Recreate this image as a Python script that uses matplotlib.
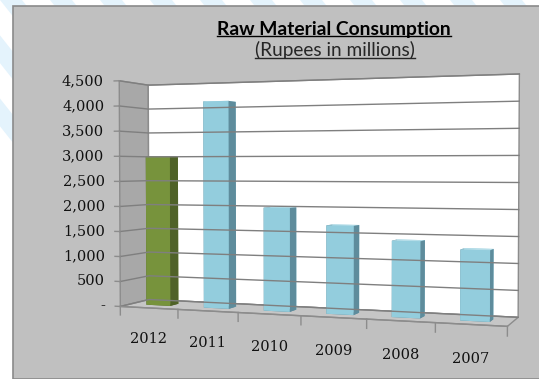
import numpy as np
import matplotlib
matplotlib.use("Agg")
import matplotlib.pyplot as plt
from matplotlib.patches import Rectangle, Polygon
from matplotlib.lines import Line2D
from mpl_toolkits.mplot3d import proj3d
from mpl_toolkits.mplot3d.art3d import Poly3DCollection

# Data
years = ["2012", "2011", "2010", "2009", "2008", "2007"]
consumption = [3000, 4080, 2000, 1680, 1420, 1290]
value_ticks = [0, 500, 1000, 1500, 2000, 2500, 3000, 3500, 4000, 4500]
value_tick_labels = ["-", "500", "1,000", "1,500", "2,000", "2,500",
                     "3,000", "3,500", "4,000", "4,500"]

front_colors = ["#77933C"] + ["#93CDDD"] * 5
side_colors = ["#4F6228"] + ["#5E8C9C"] * 5
top_colors = ["#8FAA55"] + ["#B5DDE8"] * 5

W, H = 539, 379
fig = plt.figure(figsize=(W / 100, H / 100), dpi=100)
fig.patch.set_facecolor("white")

# light blue diagonal bands behind the chart panel
for k in range(-2, 20):
    x0 = k * 50
    band = Polygon([(x0 / W, 1), ((x0 + 22) / W, 1),
                    ((x0 + 22 + 300) / W, 0), ((x0 + 300) / W, 0)],
                   closed=True, transform=fig.transFigure,
                   facecolor="#E4F3FC", edgecolor="none", zorder=-3)
    fig.patches.append(band)

# gray chart panel
panel = Rectangle((13 / W, 0), 1 - 13 / W + 0.01, 1 - 6 / H,
                  transform=fig.transFigure, facecolor="#C0C0C0",
                  edgecolor="#8A8A8A", linewidth=1.2, zorder=-2)
fig.patches.append(panel)

ax = fig.add_axes([0.1204, 0.0543, 0.90, 0.84], projection="3d")
ax.set_axis_off()
ax.patch.set_visible(False)
ax.set_xticks([])
ax.set_yticks([])
ax.set_zticks([])
ax.computed_zorder = False
ax.set_proj_type("persp", focal_length=0.613)
ax.view_init(elev=1.5, azim=-70)

n = len(years)
x_lo, x_hi = -0.5, n - 0.5
z_hi = 4500
for setter, lo, hi in ((ax.set_xlim, x_lo, x_hi), (ax.set_ylim, 0, 1),
                       (ax.set_zlim, 0, z_hi)):
    try:
        setter(lo, hi, view_margin=0)
    except TypeError:
        setter(lo, hi)
ax.set_box_aspect((6, 0.92, 3.5), zoom=1.43)

# side wall, back wall and floor
edge = "#8C8C8C"
walls = Poly3DCollection(
    [[(x_lo, 0, 0), (x_lo, 1, 0), (x_lo, 1, z_hi), (x_lo, 0, z_hi)],
     [(x_lo, 1, 0), (x_hi, 1, 0), (x_hi, 1, z_hi), (x_lo, 1, z_hi)],
     [(x_lo, 0, 0), (x_hi, 0, 0), (x_hi, 1, 0), (x_lo, 1, 0)]],
    facecolors=["#A8A8A8", "#FFFFFF", "#C6C6C6"], edgecolors=edge,
    linewidths=1.0)
ax.add_collection3d(walls)
walls.set_clip_on(False)

# horizontal gridlines across the side and back walls
for v in value_ticks:
    ax.plot([x_lo, x_lo, x_hi], [0, 1, 1], [v, v, v], color="#7F7F7F",
            lw=1.0, clip_on=False)

# front edge of the floor and category tick marks
ax.plot([x_lo, x_hi], [0, 0], [0, 0], color=edge, lw=1.0, clip_on=False)
for b in np.arange(n + 1) - 0.5:
    ax.plot([b, b], [0, 0], [0, -170], color=edge, lw=1.0, clip_on=False)

# value axis tick marks
for v in value_ticks:
    ax.plot([x_lo, x_lo - 0.09], [0, 0], [v, v], color=edge, lw=1.0,
            clip_on=False)

# columns
xpos = np.arange(n) - 0.22
bar_w = 0.42
bar_d = 0.30
for i, v in enumerate(consumption):
    # faces order: bottom, top, front(-y), back(+y), left(-x), right(+x)
    cols = [side_colors[i], top_colors[i], front_colors[i], front_colors[i],
            side_colors[i], side_colors[i]]
    bars = ax.bar3d(xpos[i], 0.5 - bar_d / 2, 0, bar_w, bar_d, v, color=cols,
                    shade=False, edgecolor="none")
    bars.set_clip_on(False)

# axis labels: project the 3D anchor points and set them as flat text
fig.canvas.draw()
M = ax.get_proj()
project = getattr(proj3d, "proj_transform", None) or proj3d._proj_transform


def flat_text(x, y, z, s, **kw):
    px, py, _ = project(np.array([x]), np.array([y]), np.array([z]), M)
    ax.text2D(float(px[0]), float(py[0]), s, transform=ax.transData,
              fontsize=10.5, family="DejaVu Serif", color="#111111",
              clip_on=False, **kw)


for i, yr in enumerate(years):
    flat_text(i, 0, -620, yr, ha="center", va="center")
for v, lab in zip(value_ticks, value_tick_labels):
    flat_text(x_lo - 0.27, 0, v, lab, ha="right", va="center")

t1 = fig.text(334 / W, 1 - 29 / H, "Raw Material Consumption", ha="center",
              va="center", fontsize=13.9, fontweight="bold", family="Lato")
t2 = fig.text(335 / W, 1 - 50 / H, "(Rupees in millions)", ha="center",
              va="center", fontsize=13.7, family="Lato", color="#262626")

# underline both title lines
fig.canvas.draw()
r = fig.canvas.get_renderer()
for t, c in ((t1, "black"), (t2, "#262626")):
    bb = t.get_window_extent(r).transformed(fig.transFigure.inverted())
    fig.add_artist(Line2D([bb.x0, bb.x1], [bb.y0 + 1.5 / H] * 2,
                          transform=fig.transFigure, color=c, lw=1.0))

fig.savefig("out.png", dpi=100)
